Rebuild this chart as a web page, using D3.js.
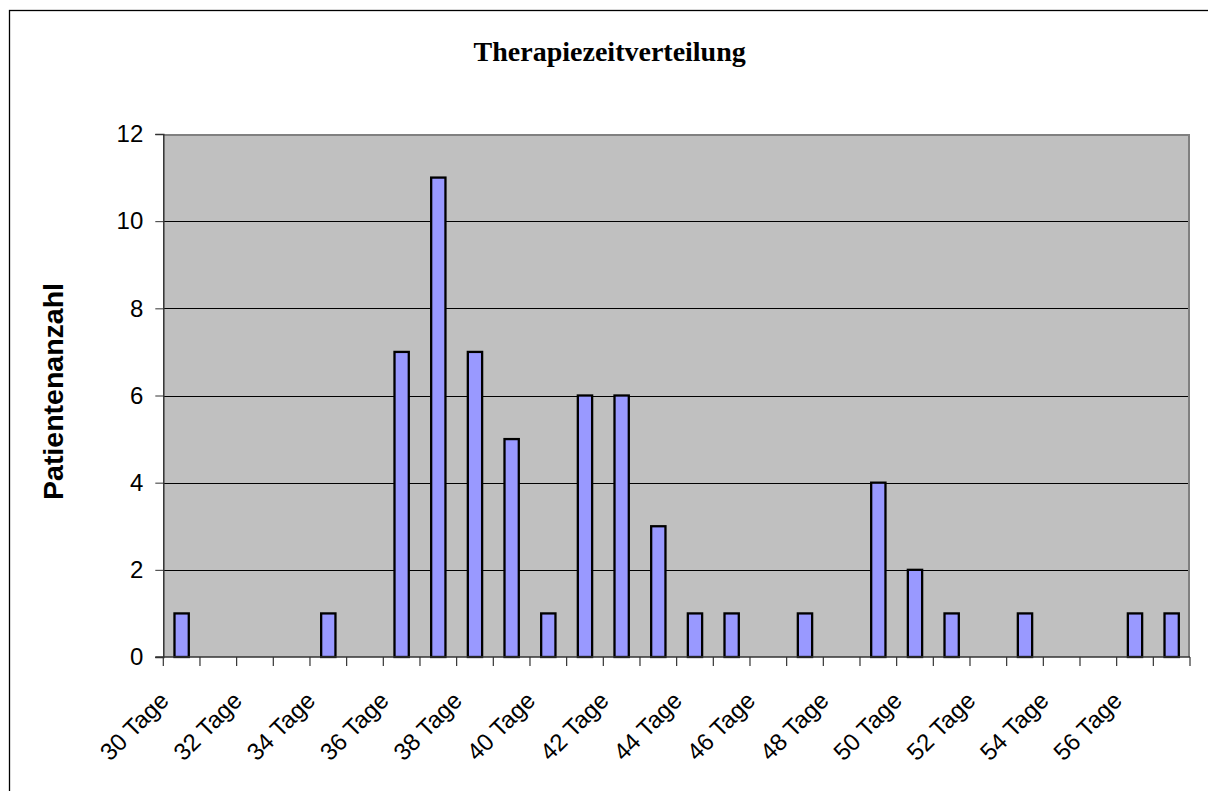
<!DOCTYPE html>
<html><head><meta charset="utf-8">
<script src="https://cdn.jsdelivr.net/npm/d3@7"></script>
<style>
html,body{margin:0;padding:0;background:#fff;}
svg{display:block;}
</style></head>
<body>
<svg id="chart" width="1208" height="791"></svg>
<script>
const categories = ["30 Tage","31 Tage","32 Tage","33 Tage","34 Tage","35 Tage","36 Tage","37 Tage","38 Tage","39 Tage","40 Tage","41 Tage","42 Tage","43 Tage","44 Tage","45 Tage","46 Tage","47 Tage","48 Tage","49 Tage","50 Tage","51 Tage","52 Tage","53 Tage","54 Tage","55 Tage","56 Tage","57 Tage"];
const patients = [1,0,0,0,1,0,7,11,7,5,1,6,6,3,1,1,0,1,0,4,2,1,0,1,0,0,1,1];
const yTicks = [0,2,4,6,8,10,12];
const chartTitle = "Therapiezeitverteilung";
const yTitle = "Patientenanzahl";

const svg = d3.select("#chart");
const L = 163.3, R = 1190, T = 134, B = 657;

// outer border
svg.append("rect").attr("x",9.5).attr("y",10.5).attr("width",1250).attr("height",850)
  .attr("fill","#fff").attr("stroke","#000").attr("stroke-width",1.3);

const x = d3.scaleBand().domain(categories).range([L,R]).padding(0);
const y = d3.scaleLinear().domain([0,12]).range([B,T]);

// plot background
svg.append("rect").attr("x",L).attr("y",T).attr("width",R-L).attr("height",B-T).attr("fill","#C0C0C0");

// gridlines
svg.append("g").selectAll("line").data(yTicks.filter(d=>d>0 && d<12)).join("line")
  .attr("x1",L).attr("x2",R).attr("y1",d=>Math.round(y(d))+0.5).attr("y2",d=>Math.round(y(d))+0.5)
  .attr("stroke","#000").attr("stroke-width",1);

// plot border top/right (gray)
svg.append("path").attr("d",`M${L},${T+1}H${R-1}V${B}`).attr("fill","none").attr("stroke","#808080").attr("stroke-width",2);

// bars
const bw = x.bandwidth()*0.39;
svg.append("g").selectAll("rect").data(patients.map((v,i)=>({c:categories[i],v})).filter(d=>d.v>0)).join("rect")
  .attr("x",d=>x(d.c)+x.bandwidth()/2-bw/2)
  .attr("y",d=>y(d.v))
  .attr("width",bw)
  .attr("height",d=>B-y(d.v))
  .attr("fill","#9999FF").attr("stroke","#000").attr("stroke-width",2.3);

// y axis
const yAxis = d3.axisLeft(y).tickValues(yTicks).tickSize(8).tickPadding(12).tickFormat(d3.format("d"));
const gy = svg.append("g").attr("transform",`translate(${L},0)`).call(yAxis);
gy.select(".domain").attr("stroke","#333").attr("stroke-width",1.5);
gy.selectAll(".tick line").attr("stroke","#333");
gy.selectAll("text").attr("font-family","Liberation Sans, Arial, sans-serif").attr("font-size",24).attr("fill","#000");

// x axis line & ticks at band edges
const edges = categories.map(c=>x(c)).concat([x(categories[categories.length-1])+x.bandwidth()]);
svg.append("line").attr("x1",L-8).attr("x2",R).attr("y1",B).attr("y2",B).attr("stroke","#333").attr("stroke-width",1.5);
svg.append("g").selectAll("line").data(edges).join("line")
  .attr("x1",d=>d).attr("x2",d=>d).attr("y1",B).attr("y2",B+9).attr("stroke","#333").attr("stroke-width",1.2);

// x labels (every other)
svg.append("g").selectAll("text").data(categories.filter((c,i)=>i%2===0)).join("text")
  .attr("transform",d=>`translate(${x(d)+x.bandwidth()/2-11.5},${B+45}) rotate(-45)`)
  .attr("text-anchor","end")
  .attr("font-family","Liberation Sans, Arial, sans-serif").attr("font-size",24).attr("fill","#000")
  .text(d=>d);

// title
svg.append("text").attr("x",609.7).attr("y",61).attr("text-anchor","middle")
  .attr("font-family","Liberation Serif, Times New Roman, serif").attr("font-weight","bold").attr("font-size",28)
  .text(chartTitle);

// y title
svg.append("text").attr("transform",`translate(63,391.5) rotate(-90)`).attr("text-anchor","middle")
  .attr("font-family","Liberation Sans, Arial, sans-serif").attr("font-weight","bold").attr("font-size",28.5)
  .text(yTitle);
</script>
</body></html>
